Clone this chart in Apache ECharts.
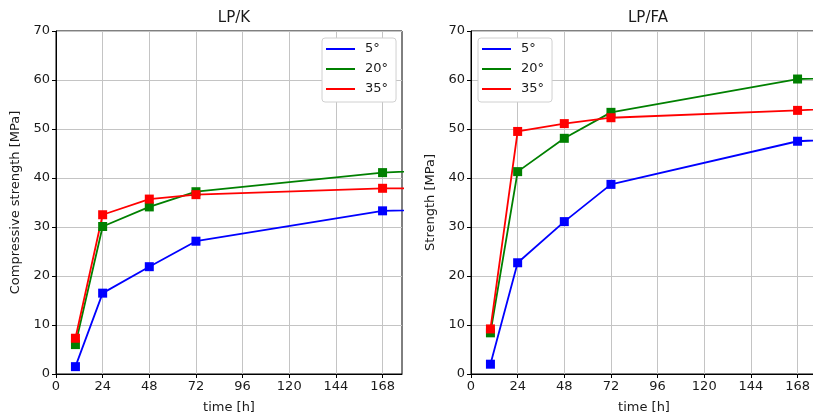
<!DOCTYPE html>
<html>
<head>
<meta charset="utf-8">
<style>
    html,body{margin:0;padding:0;background:#fff;}
    #chart{width:813px;height:415px;}
</style>
<script src="https://cdn.jsdelivr.net/npm/echarts@6/dist/echarts.min.js"></script>
</head>
<body>
<div id="chart"></div>
<script>
// curing time [h]; the last point lies past the visible axis
var times = [10, 24, 48, 72, 168, 672];
var xTicks = [0, 24, 48, 72, 96, 120, 144, 168];
var names = ['5°', '20°', '35°'];
var colors = ['#0000ff', '#008000', '#ff0000'];

// LP/K
var k5  = [1.5, 16.5, 21.9, 27.1, 33.3, 38.3];
var k20 = [6.0, 30.1, 34.1, 37.2, 41.1, 51.0];
var k35 = [7.3, 32.5, 35.7, 36.6, 37.9, 38.0];

// LP/FA
var fa5  = [2.0, 22.7, 31.1, 38.7, 47.5, 57.5];
var fa20 = [8.4, 41.3, 48.1, 53.4, 60.2, 65.2];
var fa35 = [9.2, 49.5, 51.1, 52.3, 53.8, 63.8];

var font = 'DejaVu Sans';
var txt = '#1a1a1a';

function pairs(vals){
    var out = [];
    for (var i = 0; i < times.length; i++) out.push([times[i], vals[i]]);
    return out;
}

function xAxis(idx){
    return {
        type:'value', gridIndex:idx, min:0, max:178, interval:24,
        name:'time [h]', nameLocation:'middle', nameGap:27,
        nameTextStyle:{fontFamily:font, fontSize:13, color:txt},
        axisLine:{onZero:false, lineStyle:{color:'#000', width:1}},
        axisTick:{show:true, length:4, customValues:xTicks, lineStyle:{color:'#000'}},
        axisLabel:{fontFamily:font, fontSize:13, color:txt, margin:6, customValues:xTicks},
        splitLine:{show:true, lineStyle:{color:'#c4c4c4', width:1}}
    };
}
function yAxis(idx, label){
    return {
        type:'value', gridIndex:idx, min:0, max:70, interval:10,
        name:label, nameLocation:'middle', nameGap:34,
        nameTextStyle:{fontFamily:font, fontSize:13, color:txt},
        axisLine:{show:true, lineStyle:{color:'#000', width:1}},
        axisTick:{show:true, length:4, lineStyle:{color:'#000'}},
        axisLabel:{fontFamily:font, fontSize:13, color:txt, margin:6},
        splitLine:{show:true, lineStyle:{color:'#c4c4c4', width:1}}
    };
}
function line(idx, name, vals, color){
    return {
        type:'line', name:name, xAxisIndex:idx, yAxisIndex:idx,
        data:pairs(vals), clip:true,
        symbol:'rect', symbolSize:9,
        lineStyle:{color:color, width:1.8},
        itemStyle:{color:color},
        emphasis:{disabled:true}
    };
}
function legend(left){
    return {
        orient:'vertical', left:left, top:38,
        data:names, icon:'rect', itemWidth:29, itemHeight:2, itemGap:6,
        padding:[4, 8, 6, 4],
        backgroundColor:'#fff', borderColor:'#d0d0d0', borderWidth:1, borderRadius:3,
        textStyle:{fontFamily:font, fontSize:13, color:txt, lineHeight:14, padding:[0,0,0,5]},
        selectedMode:false
    };
}

var myChart = echarts.init(document.getElementById('chart'));
myChart.setOption({
    animation:false,
    color:colors,
    title:[
        {text:'LP/K', left:229, top:6, textAlign:'center', textStyle:{fontFamily:font, fontSize:15, fontWeight:'normal', color:txt}},
        {text:'LP/FA', left:643, top:6, textAlign:'center', textStyle:{fontFamily:font, fontSize:15, fontWeight:'normal', color:txt}}
    ],
    legend:[legend(322), legend(478)],
    grid:[
        {left:56, right:411, top:31, bottom:41, outerBoundsMode:'none', show:true, borderColor:'#000', borderWidth:1},
        {left:471, right:-4, top:31, bottom:41, outerBoundsMode:'none', show:true, borderColor:'#000', borderWidth:1}
    ],
    xAxis:[xAxis(0), xAxis(1)],
    yAxis:[yAxis(0, 'Compressive strength [MPa]'), yAxis(1, 'Strength [MPa]')],
    series:[
        line(0, names[0], k5, colors[0]),
        line(0, names[1], k20, colors[1]),
        line(0, names[2], k35, colors[2]),
        line(1, names[0], fa5, colors[0]),
        line(1, names[1], fa20, colors[1]),
        line(1, names[2], fa35, colors[2])
    ]
});
</script>
</body>
</html>
